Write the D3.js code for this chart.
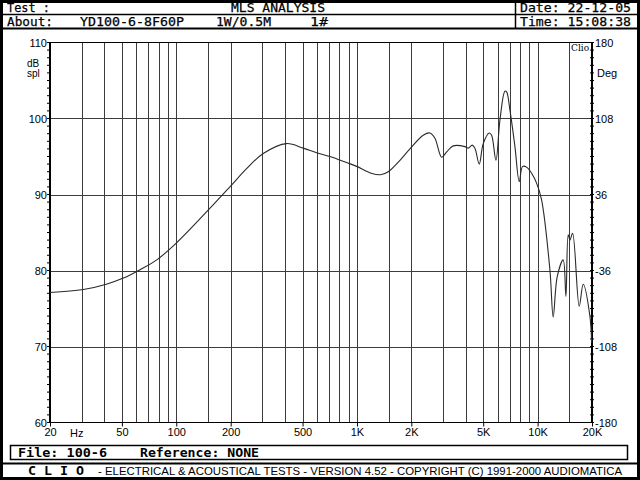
<!DOCTYPE html>
<html><head><meta charset="utf-8">
<script src="https://cdn.jsdelivr.net/npm/d3@7"></script>
<style>body{margin:0;background:#fff}svg{display:block}</style>
</head><body>
<script>
// ---- data ----
const freqs = [20,30.6,41,51,63,78,100,147,198,245,303,408,504,598,709,877,996,1200,1350,1490,1730,1964,2328,2535,2702,2944,3137,3412,3961,4131,4346,4498,4751,5000,5396,5564,5879,6187,6592,6737,7028,7490,7913,8260,8692,9264,9870,10520,11696,12200,12838,13854,14342,14770,15092,15618,16992,17880,19472,19900];
const splDb = [77.1,77.5,78.2,79.0,80.1,81.4,83.6,87.7,91.0,93.4,95.4,96.7,96.1,95.5,95.0,94.2,93.7,92.8,92.6,93.0,94.5,96.0,97.8,98.1,97.4,94.9,95.6,96.4,96.3,96.1,96.5,96.1,94.0,96.7,98.1,97.8,94.5,99.8,103.6,103.5,101.1,96.3,91.7,93.7,93.6,92.8,91.5,89.3,80.1,73.9,79.2,81.4,76.6,84.7,84.0,84.9,75.3,78.2,74.0,70.5];
const xTickValues = [20,50,100,200,500,1000,2000,5000,10000,20000];
const xTickLabels = ["20","50","100","200","500","1K","2K","5K","10K","20K"];
const gridFreqs = [30,40,50,60,70,80,90,100,150,200,300,400,500,600,700,800,900,1000,1500,2000,3000,4000,5000,6000,7000,8000,9000,10000,15000];
const yTicks = [60,70,80,90,100,110];
const yLabels = ["60","70","80","90","100","110"];
const degLabels = ["-180","-108","-36","36","108","180"];

const W=640,H=480;
const L=50,R=592,T=42.5,B=422.5;
const svg=d3.select("body").append("svg").attr("width",W).attr("height",H);
const x=d3.scaleLog().domain([20,20000]).range([L,R]);
const y=d3.scaleLinear().domain([60,110]).range([B,T]);
const mono="'DejaVu Sans Mono','Liberation Mono',monospace";
const sans="'Liberation Sans',Arial,sans-serif";

// outer frame
svg.append("rect").attr("x",1.5).attr("y",1.5).attr("width",W-3).attr("height",H-3).attr("fill","none").attr("stroke","#000").attr("stroke-width",3);
// header lines
svg.append("line").attr("x1",0).attr("x2",W).attr("y1",14.5).attr("y2",14.5).attr("stroke","#000").attr("stroke-width",1.5);
svg.append("line").attr("x1",0).attr("x2",W).attr("y1",28.5).attr("y2",28.5).attr("stroke","#000").attr("stroke-width",2);
svg.append("line").attr("x1",515.5).attr("x2",515.5).attr("y1",0).attr("y2",28).attr("stroke","#000").attr("stroke-width",1.5);
const hdr=(t,xx,yy,len)=>svg.append("text").attr("x",xx).attr("y",yy).attr("font-family",mono).attr("font-size",13).attr("fill","#000")
  .attr("stroke","#000").attr("stroke-width",0.25).attr("textLength",len).attr("lengthAdjust","spacingAndGlyphs").text(t);
hdr("Test :",7,12,43);
hdr("MLS ANALYSIS",231,12,94);
hdr("Date: 22-12-05",520,12,111);
hdr("About:",7,26,46);
hdr("YD100-6-8F60P",80,26,104);
hdr("1W/0.5M",216,26,55);
hdr("1#",310,26,18);
hdr("Time: 15:08:38",520,26,111);

// grid
svg.append("g").selectAll("line").data(gridFreqs).join("line")
  .attr("x1",d=>Math.round(x(d))+0.5).attr("x2",d=>Math.round(x(d))+0.5).attr("y1",T).attr("y2",B)
  .attr("stroke","#3c3c3c").attr("stroke-width",1);
svg.append("g").selectAll("line").data([70,80,90,100]).join("line")
  .attr("x1",L).attr("x2",R).attr("y1",d=>Math.round(y(d))+0.5).attr("y2",d=>Math.round(y(d))+0.5)
  .attr("stroke","#3c3c3c").attr("stroke-width",1);
// top/bottom frame
svg.append("line").attr("x1",L).attr("x2",R).attr("y1",T).attr("y2",T).attr("stroke","#000").attr("stroke-width",1.2);
svg.append("line").attr("x1",L).attr("x2",R).attr("y1",B).attr("y2",B).attr("stroke","#000").attr("stroke-width",1.2);

// left axis with minor ticks
svg.append("line").attr("x1",L).attr("x2",L).attr("y1",T).attr("y2",B).attr("stroke","#000").attr("stroke-width",2);
const minor=d3.range(60,110.01,1);
svg.append("g").selectAll("line").data(minor).join("line")
  .attr("x1",L-3).attr("x2",L).attr("y1",d=>y(d)).attr("y2",d=>y(d)).attr("stroke","#000").attr("stroke-width",1);
svg.append("g").selectAll("text").data(yTicks).join("text")
  .attr("x",47).attr("y",d=>y(d)+4).attr("text-anchor","end").attr("font-family",sans).attr("font-size",11).attr("fill","#000")
  .text((d,i)=>yLabels[i]);
svg.append("text").attr("x",27).attr("y",67).attr("font-family",sans).attr("font-size",10).text("dB");
svg.append("text").attr("x",27).attr("y",77).attr("font-family",sans).attr("font-size",10).text("spl");

// right axis
svg.append("line").attr("x1",R).attr("x2",R).attr("y1",T).attr("y2",B).attr("stroke","#000").attr("stroke-width",2);
svg.append("g").selectAll("line").data(minor).join("line")
  .attr("x1",R-2).attr("x2",R+2).attr("y1",d=>y(d)).attr("y2",d=>y(d)).attr("stroke","#000").attr("stroke-width",1);
svg.append("g").selectAll("text").data(yTicks).join("text")
  .attr("x",595).attr("y",d=>y(d)+4).attr("font-family",sans).attr("font-size",11).attr("fill","#000")
  .text((d,i)=>degLabels[i]);
svg.append("text").attr("x",597).attr("y",77).attr("font-family",sans).attr("font-size",11).text("Deg");
svg.append("text").attr("x",571).attr("y",51).attr("font-family","'DejaVu Serif',serif").attr("font-size",9).text("Clio");

// bottom axis ticks/labels
const bAxis=d3.axisBottom(x).tickValues(xTickValues).tickSize(4).tickFormat((d,i)=>xTickLabels[i]);
const ga=svg.append("g").attr("transform",`translate(0,${B})`).call(bAxis);
ga.select(".domain").remove();
ga.selectAll("line").attr("stroke","#000");
ga.selectAll("text").attr("font-family",sans).attr("font-size",11).attr("fill","#000").attr("dy","0.55em");
svg.append("text").attr("x",70).attr("y",437).attr("font-family",sans).attr("font-size",11).text("Hz");

// curve
const pts=freqs.map((f,i)=>[f,splDb[i]]);
svg.append("path").datum(pts).attr("fill","none").attr("stroke","#2a2a2a").attr("stroke-width",1.1)
  .attr("d",d3.line().x(d=>x(d[0])).y(d=>y(d[1])).curve(d3.curveCatmullRom.alpha(0.5)));

// footer
svg.append("rect").attr("x",10.5).attr("y",445.5).attr("width",617).attr("height",14).attr("fill","none").attr("stroke","#000").attr("stroke-width",1.5);
svg.append("text").attr("x",18).attr("y",457).attr("font-family",mono).attr("font-size",13).attr("font-weight","bold").attr("textLength",89).attr("lengthAdjust","spacingAndGlyphs").text("File: 100-6");
svg.append("text").attr("x",140).attr("y",457).attr("font-family",mono).attr("font-size",13).attr("font-weight","bold").attr("textLength",119).attr("lengthAdjust","spacingAndGlyphs").text("Reference: NONE");
svg.append("line").attr("x1",0).attr("x2",W).attr("y1",463.5).attr("y2",463.5).attr("stroke","#000").attr("stroke-width",2);
svg.append("text").attr("x",28).attr("y",475).attr("font-family",mono).attr("font-size",12).attr("font-weight","bold").attr("textLength",56).attr("lengthAdjust","spacingAndGlyphs").text("C L I O");
svg.append("text").attr("x",98).attr("y",475).attr("font-family",sans).attr("font-size",10.5).attr("textLength",524).attr("lengthAdjust","spacingAndGlyphs").text("-   ELECTRICAL & ACOUSTICAL TESTS   -   VERSION 4.52   -   COPYRIGHT (C) 1991-2000 AUDIOMATICA");
</script>
</body></html>
